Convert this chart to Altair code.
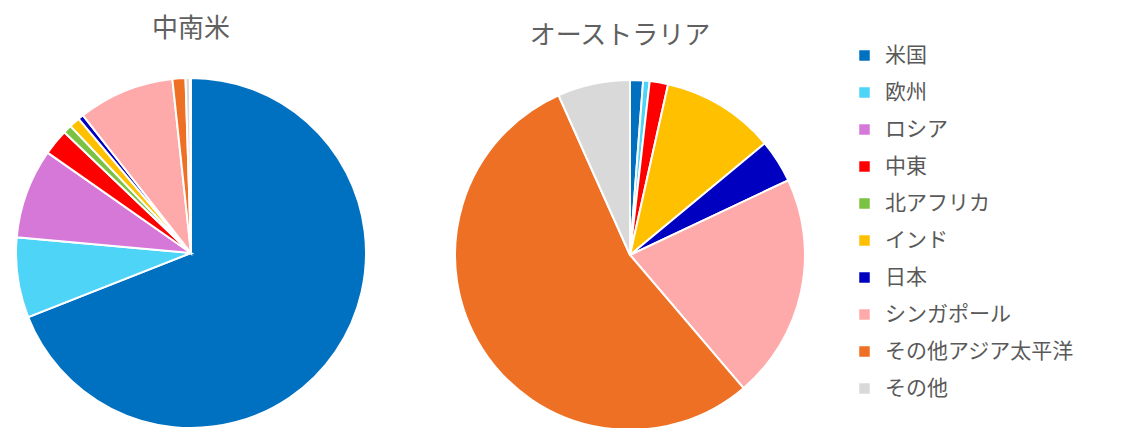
import altair as alt
import pandas as pd

categories = ["米国", "欧州", "ロシア", "中東", "北アフリカ", "インド", "日本",
              "シンガポール", "その他アジア太平洋", "その他"]
colors = ["#0070C0", "#4DD4F7", "#D678D8", "#FF0000", "#7CC242", "#FFC000",
          "#0000C0", "#FFAAAA", "#EE7024", "#D9D9D9"]
latam = [69.1, 7.4, 8.3, 2.4, 0.8, 1.0, 0.5, 8.9, 1.2, 0.4]
australia = [1.2, 0.6, 0.0, 1.7, 0.0, 10.5, 4.0, 20.8, 54.6, 6.7]
titles = ["中南米", "オーストラリア"]

rows = []
for reg, vals in zip(["latam", "aus"], [latam, australia]):
    for i, (c, v) in enumerate(zip(categories, vals)):
        if v > 0:
            rows.append({"region": reg, "category": c, "value": v, "ord": i})
df = pd.DataFrame(rows)

color = alt.Color(
    "category:N",
    scale=alt.Scale(domain=categories, range=colors),
    sort=categories,
    legend=alt.Legend(
        title=None, orient="none", legendX=846, legendY=37,
        symbolType="square", symbolSize=110, symbolStrokeWidth=0,
        labelFontSize=21, labelFont="Noto Sans CJK JP", labelColor="#595959",
        labelOffset=10, rowPadding=15, labelLimit=400,
    ),
)

R = 175

def pie(reg, cx, cy):
    return alt.Chart(df).transform_filter(alt.datum.region == reg).mark_arc(
        radius=R, stroke="white", strokeWidth=2
    ).encode(
        theta=alt.Theta("value:Q", stack=True),
        color=color,
        order=alt.Order("ord:Q"),
        x=alt.value(cx), y=alt.value(cy),
    )

tdf = pd.DataFrame({"t": titles, "px": [183, 612], "py": [21, 28]})
title_layer = alt.Chart(tdf).mark_text(
    fontSize=26, font="Noto Sans CJK JP", color="#606060", baseline="middle"
).encode(
    x=alt.X("px:Q", scale=None), y=alt.Y("py:Q", scale=None), text="t:N"
)

chart = alt.layer(
    pie("latam", 183, 245), pie("aus", 622, 247), title_layer
).properties(width=1105, height=412, padding=0).configure_view(strokeWidth=0)

chart.save("out.html", embed_options={"renderer": "svg", "actions": False})
